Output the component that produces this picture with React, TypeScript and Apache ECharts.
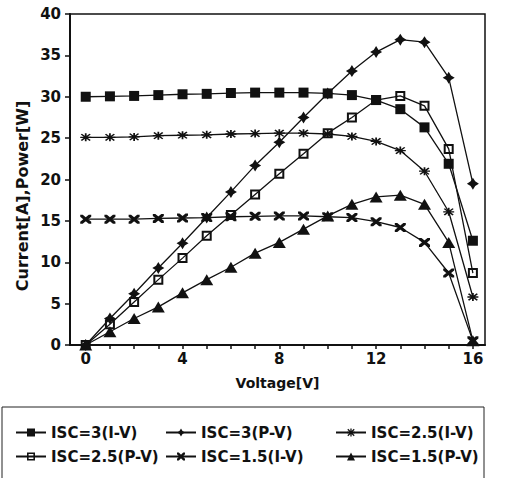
import React, { useEffect, useRef } from 'react';
import * as echarts from 'echarts';

const voltage = [0, 1, 2, 3, 4, 5, 6, 7, 8, 9, 10, 11, 12, 13, 14, 15, 16];
const isc3IV = [30.0, 30.05, 30.1, 30.2, 30.3, 30.35, 30.45, 30.5, 30.5, 30.5, 30.4, 30.2, 29.6, 28.5, 26.3, 21.9, 12.6];
const isc3PV = [0, 3.2, 6.2, 9.3, 12.3, 15.4, 18.5, 21.7, 24.5, 27.5, 30.4, 33.1, 35.4, 36.9, 36.6, 32.3, 19.5];
const isc25IV = [25.1, 25.1, 25.15, 25.3, 25.35, 25.4, 25.5, 25.55, 25.6, 25.6, 25.5, 25.2, 24.6, 23.5, 21.0, 16.1, 5.8];
const isc25PV = [0, 2.5, 5.2, 7.9, 10.5, 13.2, 15.7, 18.2, 20.7, 23.1, 25.6, 27.5, 29.6, 30.1, 28.9, 23.7, 8.7];
const isc15IV = [15.2, 15.2, 15.2, 15.3, 15.35, 15.4, 15.5, 15.55, 15.6, 15.6, 15.5, 15.4, 14.9, 14.2, 12.4, 8.7, 0.5];
const isc15PV = [0, 1.6, 3.2, 4.6, 6.3, 7.9, 9.4, 11.1, 12.4, 14.0, 15.6, 17.0, 17.9, 18.1, 17.0, 12.4, 0.5];

const seriesNames = ['ISC=3(I-V)', 'ISC=3(P-V)', 'ISC=2.5(I-V)', 'ISC=2.5(P-V)', 'ISC=1.5(I-V)', 'ISC=1.5(P-V)'];
const xTickValues = [0, 1, 2, 3, 4, 5, 6, 7, 8, 9, 10, 11, 12, 13, 14, 15, 16];
const xLabelValues = [0, 4, 8, 12, 16];

const FONT = 'DejaVu Sans';
const INK = '#111';

const STAR4 = 'path://M0,-10 L3.8,-3.8 L10,0 L3.8,3.8 L0,10 L-3.8,3.8 L-10,0 L-3.8,-3.8 Z';
const ASTERISK =
  'path://M-10,-1.6 L10,-1.6 L10,1.6 L-10,1.6 Z ' +
  'M-1.6,-10 L1.6,-10 L1.6,10 L-1.6,10 Z ' +
  'M-6.9,-9.1 L9.1,6.9 L6.9,9.1 L-9.1,-6.9 Z ' +
  'M9.1,-6.9 L-6.9,9.1 L-9.1,6.9 L6.9,-9.1 Z';
const HOLLOW_SQ = 'path://M0,0 L10,0 L10,10 L0,10 Z M2,2 L2,8 L8,8 L8,2 Z';
const BOWTIE =
  'path://M-10,-10 L-5.5,-10 L10,5.5 L10,10 L5.5,10 L-10,-5.5 Z ' +
  'M10,-10 L10,-5.5 L-5.5,10 L-10,10 L-10,5.5 L5.5,-10 Z';

function mk(name: string, vals: number[], symbol: string, size: number | number[]) {
  return {
    name,
    type: 'line',
    data: voltage.map((v, i) => [v, vals[i]]),
    symbol,
    symbolSize: size,
    showAllSymbol: true,
    lineStyle: { color: INK, width: 1.3 },
    itemStyle: { color: INK, borderWidth: 0 },
    emphasis: { disabled: true },
  };
}

export default function App() {
  const ref = useRef<HTMLDivElement>(null);
  useEffect(() => {
    if (!ref.current) return;
    const chart = echarts.init(ref.current, null, { renderer: 'svg' });
    const legendText = { fontFamily: FONT, fontWeight: 'bold', fontSize: 15, color: INK };
    const legendBase = {
      orient: 'vertical',
      top: 420,
      itemWidth: 30,
      itemHeight: 10,
      itemGap: 9,
      textStyle: legendText,
      selectedMode: false,
    };
    chart.setOption({
      animation: false,
      backgroundColor: '#fff',
      grid: {
        left: 70,
        top: 14,
        right: 25,
        bottom: 133,
        show: true,
        borderColor: INK,
        borderWidth: 1.5,
        containLabel: false,
      },
      xAxis: {
        type: 'value',
        min: -0.65,
        max: 16.5,
        name: 'Voltage[V]',
        nameLocation: 'middle',
        nameGap: 31,
        nameTextStyle: { fontFamily: FONT, fontWeight: 'bold', fontSize: 14, color: INK },
        axisLine: { show: true, onZero: false, lineStyle: { color: INK, width: 2 } },
        axisTick: { show: true, customValues: xTickValues, length: 4, lineStyle: { color: INK, width: 1.5 } },
        axisLabel: {
          customValues: xLabelValues,
          margin: 6,
          fontFamily: FONT,
          fontWeight: 'bold',
          fontSize: 15,
          color: INK,
        },
        splitLine: { show: false },
      },
      yAxis: {
        type: 'value',
        min: 0,
        max: 40,
        interval: 5,
        axisLine: { show: true, onZero: false, lineStyle: { color: INK, width: 2 } },
        axisTick: { show: true, length: 5, lineStyle: { color: INK, width: 1.5 } },
        axisLabel: { margin: 9, fontFamily: FONT, fontWeight: 'bold', fontSize: 15, color: INK },
        splitLine: { show: false },
      },
      legend: [
        { ...legendBase, left: 10, data: [seriesNames[0], seriesNames[3]] },
        { ...legendBase, left: 160, data: [seriesNames[1], seriesNames[4]] },
        { ...legendBase, left: 330, data: [seriesNames[2], seriesNames[5]] },
      ],
      graphic: [
        {
          type: 'text',
          x: 22,
          y: 196,
          rotation: Math.PI / 2,
          style: {
            text: 'Current[A],Power[W]',
            fontFamily: FONT,
            fontWeight: 'bold',
            fontSize: 16,
            fill: INK,
            align: 'center',
            verticalAlign: 'middle',
          },
        },
        {
          type: 'rect',
          shape: { x: 2, y: 407, width: 482, height: 80 },
          style: { fill: 'none', stroke: '#222', lineWidth: 1 },
          silent: true,
        },
      ],
      series: [
        mk(seriesNames[0], isc3IV, 'rect', 10),
        mk(seriesNames[1], isc3PV, STAR4, 12),
        mk(seriesNames[2], isc25IV, ASTERISK, [11, 8]),
        mk(seriesNames[3], isc25PV, HOLLOW_SQ, 10),
        mk(seriesNames[4], isc15IV, BOWTIE, [11, 9]),
        mk(seriesNames[5], isc15PV, 'triangle', [13, 11]),
      ],
    });
    return () => chart.dispose();
  }, []);
  return <div ref={ref} style={{ position: 'absolute', left: 0, top: 0, width: 510, height: 478 }} />;
}
